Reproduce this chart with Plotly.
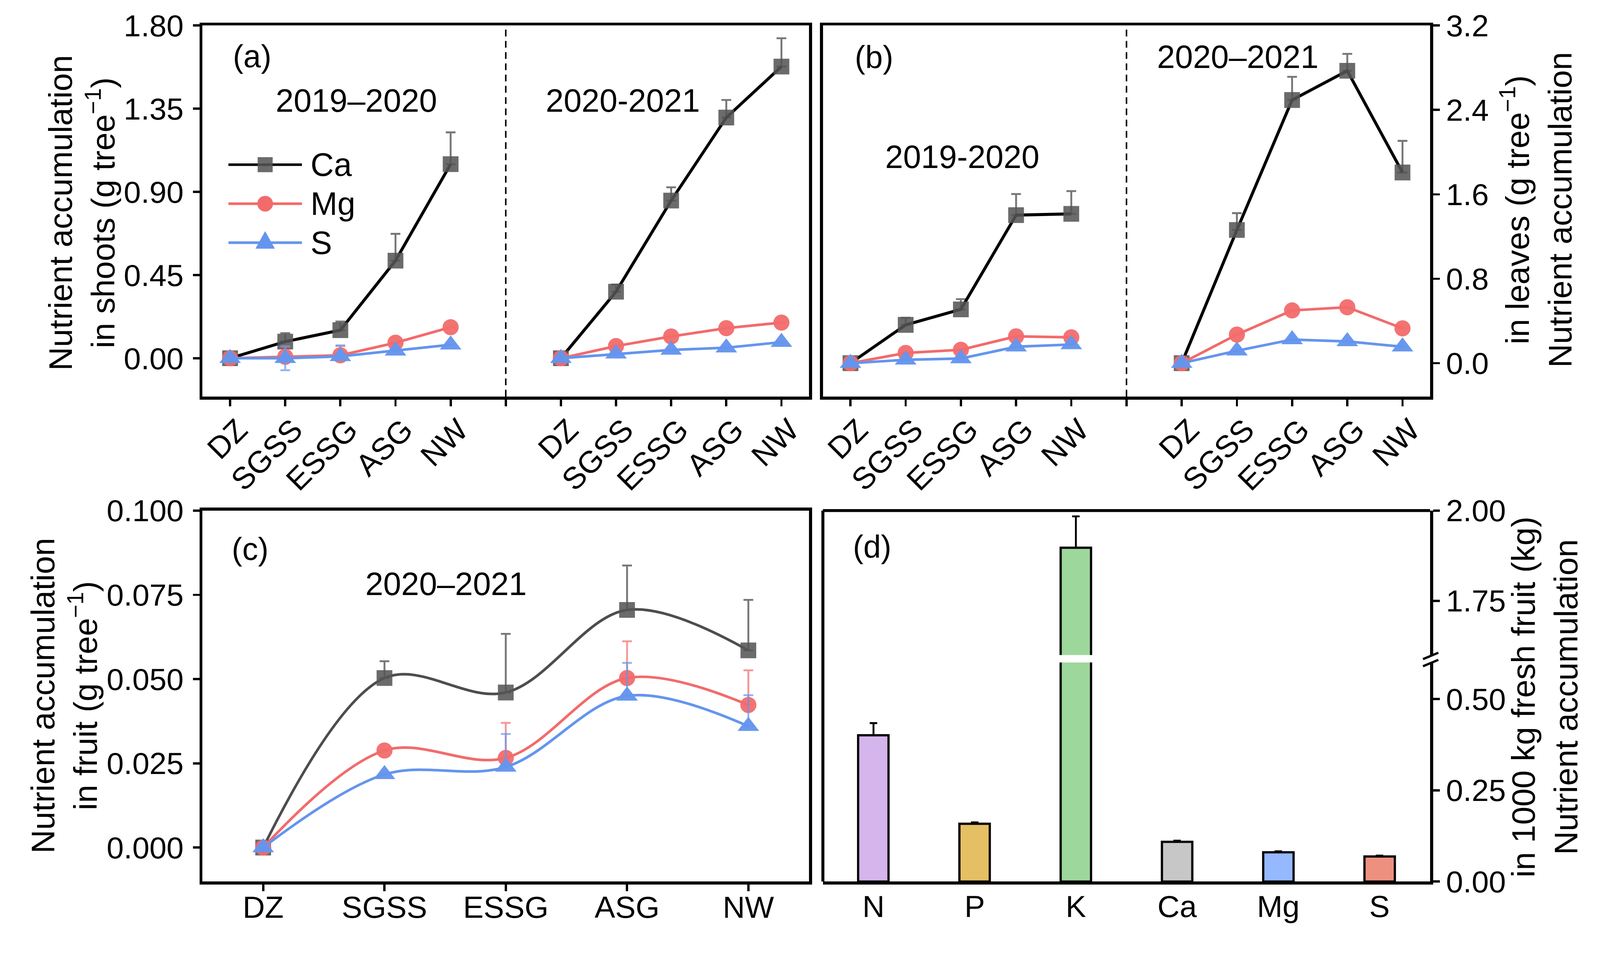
import plotly.graph_objects as go

W, H = 4266, 2475


def px(x):
    return x / W


def py(y):
    return 1 - y / H


# ---------------- data ----------------
stages = ["DZ", "SGSS", "ESSG", "ASG", "NW"]

# (a) shoots, g tree-1
shoot_ca_1920 = [0.0, 0.09, 0.152, 0.528, 1.05]
shoot_ca_1920_err = [0.0, 0.046, 0.047, 0.145, 0.172]
shoot_ca_2021 = [0.0, 0.36, 0.853, 1.302, 1.578]
shoot_ca_2021_err = [0.0, 0.039, 0.072, 0.095, 0.153]
shoot_mg_1920 = [0.0, 0.008, 0.016, 0.084, 0.168]
shoot_mg_1920_err = [0.0, 0.055, 0.05, 0.0, 0.0]
shoot_mg_2021 = [0.0, 0.066, 0.118, 0.163, 0.193]
shoot_mg_2021_err = [0.0, 0.0, 0.0, 0.0, 0.0]
shoot_s_1920 = [0.0, 0.0, 0.01, 0.04, 0.073]
shoot_s_1920_err = [0.0, 0.065, 0.06, 0.0, 0.0]
shoot_s_1920_errm = [0.0, 0.065, 0.0, 0.0, 0.0]
shoot_s_2021 = [0.0, 0.024, 0.045, 0.057, 0.087]
shoot_s_2021_err = [0.0, 0.0, 0.0, 0.0, 0.0]

# (b) leaves, g tree-1
leaf_ca_1920 = [0.0, 0.363, 0.51, 1.403, 1.415]
leaf_ca_1920_err = [0.0, 0.068, 0.097, 0.20, 0.216]
leaf_ca_2021 = [0.0, 1.262, 2.494, 2.771, 1.807]
leaf_ca_2021_err = [0.0, 0.16, 0.22, 0.16, 0.30]
leaf_mg_1920 = [0.0, 0.097, 0.127, 0.254, 0.245]
leaf_mg_2021 = [0.0, 0.271, 0.50, 0.53, 0.33]
leaf_s_1920 = [0.0, 0.032, 0.044, 0.156, 0.177]
leaf_s_2021 = [0.0, 0.118, 0.224, 0.206, 0.156]

# (c) fruit 2020-2021, g tree-1
fruit_ca = [0.0, 0.0503, 0.046, 0.0705, 0.0585]
fruit_ca_err = [0.0, 0.005, 0.0174, 0.0132, 0.015]
fruit_mg = [0.0, 0.0288, 0.0266, 0.0503, 0.0423]
fruit_mg_err = [0.0, 0.0, 0.0104, 0.0109, 0.0103]
fruit_s = [0.0, 0.0217, 0.0239, 0.0450, 0.0360]
fruit_s_err = [0.0, 0.0, 0.0098, 0.0098, 0.0092]

# (d) nutrient accumulation in 1000 kg fresh fruit, kg
nutrients = ["N", "P", "K", "Ca", "Mg", "S"]
fruit_acc = [0.401, 0.158, 1.897, 0.109, 0.080, 0.069]
fruit_acc_err = [0.033, 0.004, 0.087, 0.003, 0.003, 0.002]
bar_colors = ["#D5B5EC", "#E5BF64", "#9ED79B", "#C7C7C7", "#95B8FF", "#EE9080"]

# ---------------- styles ----------------
FONT = "Arial, Liberation Sans, sans-serif"
CA_MARK = "rgba(85,85,85,0.87)"
CA_ERR = "rgba(95,95,95,0.85)"
MG = "#F26B6B"
MG_MARK = "rgba(242,107,107,0.95)"
MG_ERR = "rgba(242,107,107,0.7)"
S = "#6495ED"
S_MARK = "rgba(100,149,237,0.97)"
S_ERR = "rgba(100,149,237,0.7)"
FRAME_W = 8

x1920 = [i for i in range(len(stages))]
x2021 = [i + len(stages) + 1 for i in range(len(stages))]
x_divider = len(stages)

fig = go.Figure()


def add_line(x, y, err, color, mcolor, ecolor, symbol, size, lw, xa, ya,
             errm=None, shape="linear"):
    ed = dict(type="data", array=err, color=ecolor, thickness=5, width=13,
              visible=True, symmetric=False,
              arrayminus=errm if errm is not None else [0.0] * len(err))
    fig.add_trace(go.Scatter(
        x=x, y=y, mode="lines+markers", xaxis=xa, yaxis=ya,
        line=dict(color=color, width=lw, shape=shape, smoothing=1.0),
        marker=dict(symbol=symbol, size=size, color=mcolor, line=dict(width=0)),
        error_y=ed, showlegend=False, cliponaxis=False))


zero5 = [0.0] * 5
# panel a
add_line(x1920, shoot_ca_1920, shoot_ca_1920_err, "#000000", CA_MARK, CA_ERR, "square", 42, 8, "x", "y")
add_line(x2021, shoot_ca_2021, shoot_ca_2021_err, "#000000", CA_MARK, CA_ERR, "square", 42, 8, "x", "y")
add_line(x1920, shoot_mg_1920, shoot_mg_1920_err, MG, MG_MARK, MG_ERR, "circle", 43, 7, "x", "y")
add_line(x2021, shoot_mg_2021, shoot_mg_2021_err, MG, MG_MARK, MG_ERR, "circle", 43, 7, "x", "y")
add_line(x1920, shoot_s_1920, shoot_s_1920_err, S, S_MARK, S_ERR, "triangle-up", 50, 7, "x", "y",
         errm=shoot_s_1920_errm)
add_line(x2021, shoot_s_2021, shoot_s_2021_err, S, S_MARK, S_ERR, "triangle-up", 50, 7, "x", "y")
# panel b
add_line(x1920, leaf_ca_1920, leaf_ca_1920_err, "#000000", CA_MARK, CA_ERR, "square", 42, 8, "x2", "y2")
add_line(x2021, leaf_ca_2021, leaf_ca_2021_err, "#000000", CA_MARK, CA_ERR, "square", 42, 8, "x2", "y2")
add_line(x1920, leaf_mg_1920, zero5, MG, MG_MARK, MG_ERR, "circle", 43, 7, "x2", "y2")
add_line(x2021, leaf_mg_2021, zero5, MG, MG_MARK, MG_ERR, "circle", 43, 7, "x2", "y2")
add_line(x1920, leaf_s_1920, zero5, S, S_MARK, S_ERR, "triangle-up", 50, 7, "x2", "y2")
add_line(x2021, leaf_s_2021, zero5, S, S_MARK, S_ERR, "triangle-up", 50, 7, "x2", "y2")
# panel c
add_line(x1920, fruit_ca, fruit_ca_err, "#4D4D4D", CA_MARK, CA_ERR, "square", 42, 7, "x3", "y3", shape="spline")
add_line(x1920, fruit_mg, fruit_mg_err, MG, MG_MARK, MG_ERR, "circle", 43, 7, "x3", "y3", shape="spline")
add_line(x1920, fruit_s, fruit_s_err, S, S_MARK, S_ERR, "triangle-up", 50, 7, "x3", "y3", shape="spline")

# panel d (broken axis: same bars drawn on lower and upper segments)
for ya in ["y4", "y5"]:
    fig.add_trace(go.Bar(
        x=nutrients, y=fruit_acc, xaxis="x4", yaxis=ya, width=0.3,
        marker=dict(color=bar_colors, line=dict(color="#000000", width=6)),
        error_y=dict(type="data", array=fruit_acc_err, symmetric=False,
                     arrayminus=[0.0] * 6, color="#000000", thickness=5, width=10),
        showlegend=False))

TICKFONT = dict(family=FONT, size=82, color="#000000")
common = dict(showline=True, linecolor="#000000", linewidth=FRAME_W, ticks="outside",
              ticklen=18, tickwidth=6, tickcolor="#000000", showgrid=False,
              zeroline=False, tickfont=TICKFONT, automargin=False)
divider_tick = dict(tickvals=[x_divider], ticks="outside", ticklen=18, tickwidth=6,
                    tickcolor="#000000", showgrid=False)

xa_dom = [px(540), px(2157)]
xb_dom = [px(2194), px(3813)]
top_dom = [py(1057), py(68)]
bot_dom = [py(2350), py(1361)]

fig.update_layout(
    template="none",
    width=W, height=H, autosize=False,
    margin=dict(l=0, r=0, t=0, b=0, pad=0),
    paper_bgcolor="white", plot_bgcolor="white",
    font=dict(family=FONT, color="#000000"),
    showlegend=False,
    bargap=0,
    xaxis=dict(domain=xa_dom, anchor="y", range=[-0.5, 10.5], tickvals=x1920 + x2021,
               ticktext=stages + stages, tickangle=-45, mirror=True, minor=divider_tick,
               ticklabelshift=22, ticklabelstandoff=-18, **common),
    yaxis=dict(domain=top_dom, anchor="x", range=[-0.207, 1.8], ticklabelstandoff=8,
               tickvals=[0, 0.45, 0.9, 1.35, 1.8], tickformat=".2f", mirror=True, **common),
    xaxis2=dict(domain=xb_dom, anchor="y2", range=[-0.5, 10.5], tickvals=x1920 + x2021,
                ticktext=stages + stages, tickangle=-45, mirror=True, minor=divider_tick,
                ticklabelshift=22, ticklabelstandoff=-18, **common),
    yaxis2=dict(domain=top_dom, anchor="x2", side="right", range=[-0.316, 3.2],
                tickvals=[0, 0.8, 1.6, 2.4, 3.2], tickformat=".1f", mirror=True, **common),
    xaxis3=dict(domain=xa_dom, anchor="y3", range=[-0.5, 4.5], tickvals=x1920,
                ticktext=stages, mirror=True, ticklabelstandoff=-28, **common),
    yaxis3=dict(domain=bot_dom, anchor="x3", range=[-0.0101, 0.1], ticklabelstandoff=8,
                tickvals=[0, 0.025, 0.05, 0.075, 0.1], tickformat=".3f", mirror=True, **common),
    xaxis4=dict(domain=xb_dom, anchor="y4", range=[-0.5, 5.5], type="category",
                showline=True, linecolor="#000000", linewidth=FRAME_W, ticks="",
                showgrid=False, zeroline=False, tickfont=TICKFONT, automargin=False,
                ticklabelstandoff=-12),
    yaxis4=dict(domain=[py(2350), py(1766)], anchor="x4", side="right", range=[0, 0.6],
                tickvals=[0, 0.25, 0.5], tickformat=".2f", **common),
    yaxis5=dict(domain=[py(1746), py(1361)], anchor="x4", side="right", range=[1.6, 2.0],
                tickvals=[1.75, 2.0], tickformat=".2f", **common),
)

shapes = []
# dashed season dividers
for xa, ya in [("x", "y"), ("x2", "y2")]:
    shapes.append(dict(type="line", xref=xa, yref=ya + " domain", x0=x_divider, x1=x_divider,
                       y0=0, y1=1, line=dict(color="#000000", width=4, dash="18px,12px")))
# panel d frame (left and top) and axis-break marks
shapes.append(dict(type="line", xref="paper", yref="paper", x0=px(2194), x1=px(2194),
                   y0=py(2350), y1=py(1361), line=dict(color="#000000", width=FRAME_W)))
shapes.append(dict(type="line", xref="paper", yref="paper", x0=px(2194), x1=px(3813),
                   y0=py(1361), y1=py(1361), line=dict(color="#000000", width=FRAME_W)))
for dy in [0, 19]:
    shapes.append(dict(type="line", xref="paper", yref="paper", x0=px(3794), x1=px(3835),
                       y0=py(1757 + dy), y1=py(1740 + dy), line=dict(color="#000000", width=6)))

# legend keys in panel a
leg_y = [439, 543, 647]
leg_col = ["#000000", MG, S]
for yy, col in zip(leg_y, leg_col):
    shapes.append(dict(type="line", xref="paper", yref="paper", x0=px(609), x1=px(805),
                       y0=py(yy), y1=py(yy), line=dict(color=col, width=7)))
shapes.append(dict(type="rect", xref="paper", yref="paper", x0=px(687), x1=px(727),
                   y0=py(leg_y[0] + 20), y1=py(leg_y[0] - 20), fillcolor=CA_MARK, line=dict(width=0)))
shapes.append(dict(type="circle", xref="paper", yref="paper", x0=px(686), x1=px(728),
                   y0=py(leg_y[1] + 21), y1=py(leg_y[1] - 21), fillcolor=MG, line=dict(width=0)))
shapes.append(dict(type="path", xref="paper", yref="paper",
                   path="M {:.5f},{:.5f} L {:.5f},{:.5f} L {:.5f},{:.5f} Z".format(
                       px(681), py(663), px(733), py(663), px(707), py(616)),
                   fillcolor=S, line=dict(width=0)))
fig.update_layout(shapes=shapes)

ann = []


def text(x, y, s, size=84, xanchor="center", angle=0):
    ann.append(dict(x=px(x), y=py(y), xref="paper", yref="paper", text=s, showarrow=False,
                    xanchor=xanchor, yanchor="middle", textangle=angle,
                    font=dict(family=FONT, size=size, color="#000000")))


text(672, 150, "(a)", 84)
text(950, 268, "2019–2020", 86)
text(1660, 268, "2020-2021", 86)
text(2330, 152, "(b)", 84)
text(2565, 418, "2019-2020", 86)
text(3300, 151, "2020–2021", 86)
text(667, 1463, "(c)", 84)
text(1189, 1556, "2020–2021", 86)
text(2325, 1457, "(d)", 84)
for yy, name in zip(leg_y, ["Ca", "Mg", "S"]):
    text(826, yy, name, 86, xanchor="left")

text(218, 568, "Nutrient accumulation<br>in shoots (g tree<sup>−1</sup>)", 87, angle=-90)
text(171, 1855, "Nutrient accumulation<br>in fruit (g tree<sup>−1</sup>)", 87, angle=-90)
text(4096, 560, "in leaves (g tree<sup>−1</sup>)<br>Nutrient accumulation", 87, angle=-90)
text(4118, 1858, "in 1000 kg fresh fruit (kg)<br>Nutrient accumulation", 87, angle=-90)
fig.update_layout(annotations=ann)

# fit the fixed-size figure into whatever viewport the page gets (uniform scale)
post = """
var gd = document.getElementById('{plot_id}');
document.documentElement.style.margin = '0';
document.documentElement.style.overflow = 'hidden';
document.body.style.margin = '0';
document.body.style.overflow = 'hidden';
var s = Math.min(window.innerWidth / %d, window.innerHeight / %d);
if (s < 0.999) {
  gd.style.transformOrigin = '0 0';
  gd.style.transform = 'scale(' + s + ')';
}
""" % (W, H)

fig.write_html("out.html", post_script=post, config={"displayModeBar": False})
